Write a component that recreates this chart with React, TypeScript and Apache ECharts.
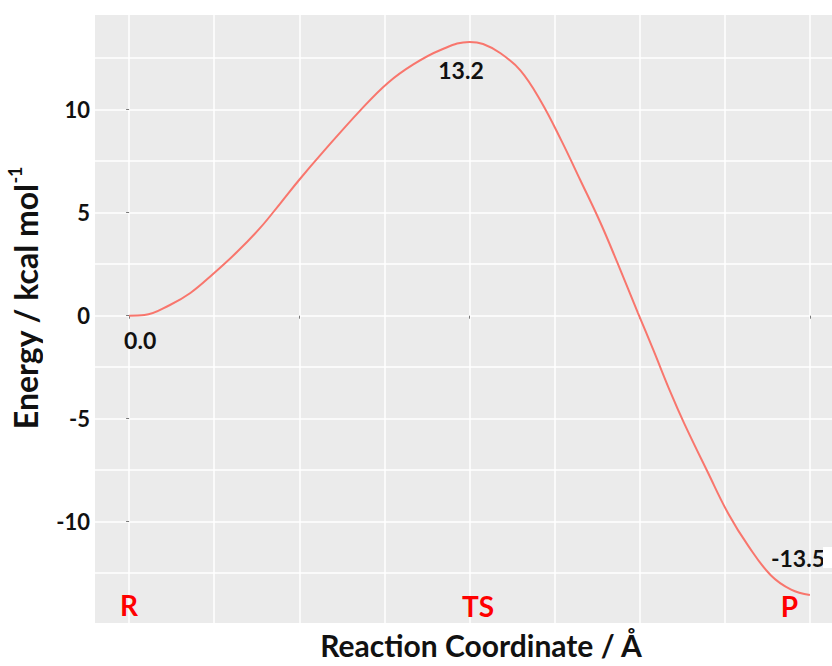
import React, { useEffect, useRef } from "react";
import * as echarts from "echarts";

// Reaction path (x = reaction coordinate, arbitrary units R=0 … P=4)
const reactionCoord = [0, 0.09, 0.24, 0.36, 0.49, 0.635, 0.77, 0.89, 1.0, 1.14, 1.36, 1.52, 1.67, 1.83, 2.0, 2.08, 2.18, 2.3, 2.42, 2.54, 2.65, 2.77, 2.87, 2.99, 3.08, 3.18, 3.26, 3.4, 3.52, 3.64, 3.77, 3.89, 4.0];
const energyKcal = [0, 0.03, 0.52, 1.1, 2.0, 3.1, 4.26, 5.47, 6.6, 7.95, 9.98, 11.3, 12.2, 12.9, 13.29, 13.19, 12.75, 11.9, 10.4, 8.5, 6.6, 4.5, 2.55, 0.13, -1.66, -3.7, -5.2, -7.6, -9.6, -11.2, -12.6, -13.3, -13.56];

// Energy value annotations
const valueLabelText = ["0.0", "13.2", "-13.5"];
const valueLabelX = [0.065, 1.95, 3.93];
const valueLabelY = [-1.18, 11.93, -11.75];

// Stationary point annotations
const stateLabelText = ["R", "TS", "P"];
const stateLabelX = [0, 2.05, 3.88];
const stateLabelY = [-14.05, -14.1, -14.1];

const yTickValues = [-10, -5, 0, 5, 10];
const xTickValues = [0, 1, 2, 3, 4];

const FONT = "Lato, 'Open Sans', sans-serif";

export default function App() {
  const ref = useRef<HTMLDivElement>(null);

  useEffect(() => {
    if (!ref.current) return;
    const chart = echarts.init(ref.current, null, { renderer: "svg" });

    const line = reactionCoord.map((x, i) => [x, energyKcal[i]]);
    const valueLabels = valueLabelText.map((t, i) => [valueLabelX[i], valueLabelY[i], t]);
    const stateLabels = stateLabelText.map((t, i) => [stateLabelX[i], stateLabelY[i], t]);

    const xBase = { type: "value", min: -0.5, max: 4.5, position: "bottom", offset: -2 };
    const yBase = { type: "value", min: -15, max: 15, position: "left", offset: -51 };

    const option: any = {
      animation: false,
      backgroundColor: "#ffffff",
      textStyle: { fontFamily: FONT },
      grid: {
        left: 44,
        top: 6.7,
        width: 851,
        height: 618,
        containLabel: false,
        outerBoundsMode: "none",
      },
      xAxis: [
        {
          ...xBase,
          interval: 0.5,
          axisLine: { show: false },
          axisLabel: { show: false },
          axisTick: { show: false },
          splitLine: { show: true, lineStyle: { color: "#ffffff", width: 1.5 } },
        },
        {
          ...xBase,
          interval: 0.5,
          axisLine: { show: false },
          axisLabel: { show: false },
          axisTick: {
            show: true,
            customValues: xTickValues,
            length: 3,
            lineStyle: { color: "#7a7a7a", width: 1 },
          },
          splitLine: { show: false },
        },
      ],
      yAxis: [
        {
          ...yBase,
          interval: 2.5,
          axisLine: { show: false },
          axisTick: { show: false },
          axisLabel: { show: false },
          splitLine: { show: true, lineStyle: { color: "#ffffff", width: 1.5 } },
        },
        {
          ...yBase,
          interval: 2.5,
          axisLine: { show: false },
          axisTick: {
            show: true,
            customValues: yTickValues,
            length: 3,
            lineStyle: { color: "#7a7a7a", width: 1 },
          },
          axisLabel: {
            customValues: yTickValues,
            formatter: (v: number) => (yTickValues.indexOf(v) >= 0 ? String(v) : ""),
            fontFamily: FONT,
            fontSize: 22,
            fontWeight: "bold",
            color: "#111111",
            margin: 5,
          },
          splitLine: { show: false },
        },
      ],
      graphic: [
        {
          type: "rect",
          z: -100,
          silent: true,
          shape: { x: 95, y: 15, width: 737, height: 608 },
          style: { fill: "#EBEBEB" },
        },
        {
          type: "rect",
          z: 50,
          silent: true,
          shape: { x: 823, y: 547, width: 9, height: 21 },
          style: { fill: "#ffffff" },
        },
        {
          type: "text",
          x: 25,
          y: 298,
          rotation: Math.PI / 2,
          silent: true,
          style: {
            text: "Energy / kcal mol{sup|-1}",
            font: `bold 32px ${FONT}`,
            fill: "#111111",
            align: "center",
            verticalAlign: "middle",
            rich: {
              sup: {
                fontSize: 18,
                fontWeight: "bold",
                fontFamily: FONT,
                fill: "#111111",
                verticalAlign: "top",
                lineHeight: 38,
              },
            },
          },
        },
        {
          type: "text",
          x: 481,
          y: 645,
          silent: true,
          style: {
            text: "Reaction Coordinate / Å",
            font: `bold 30px ${FONT}`,
            fill: "#111111",
            align: "center",
            verticalAlign: "middle",
          },
        },
      ],
      series: [
        {
          type: "line",
          data: line,
          smooth: 0.4,
          symbol: "none",
          clip: false,
          lineStyle: { color: "#F8766D", width: 2 },
          z: 3,
        },
        {
          type: "scatter",
          data: valueLabels,
          symbolSize: 0,
          z: 4,
          itemStyle: { opacity: 1 },
          label: {
            show: true,
            position: "inside",
            formatter: (p: any) => p.value[2],
            fontFamily: FONT,
            fontSize: 23,
            fontWeight: "bold",
            color: "#111111",
            opacity: 1,
          },
        },
        {
          type: "scatter",
          data: stateLabels,
          symbolSize: 0,
          z: 4,
          itemStyle: { opacity: 1 },
          label: {
            show: true,
            position: "inside",
            formatter: (p: any) => p.value[2],
            fontFamily: FONT,
            fontSize: 28,
            fontWeight: "bold",
            color: "#FF0000",
            opacity: 1,
          },
        },
      ],
    };

    chart.setOption(option);
    return () => chart.dispose();
  }, []);

  return (
    <div
      ref={ref}
      style={{ position: "fixed", left: 0, top: 0, width: 832, height: 666 }}
    />
  );
}
